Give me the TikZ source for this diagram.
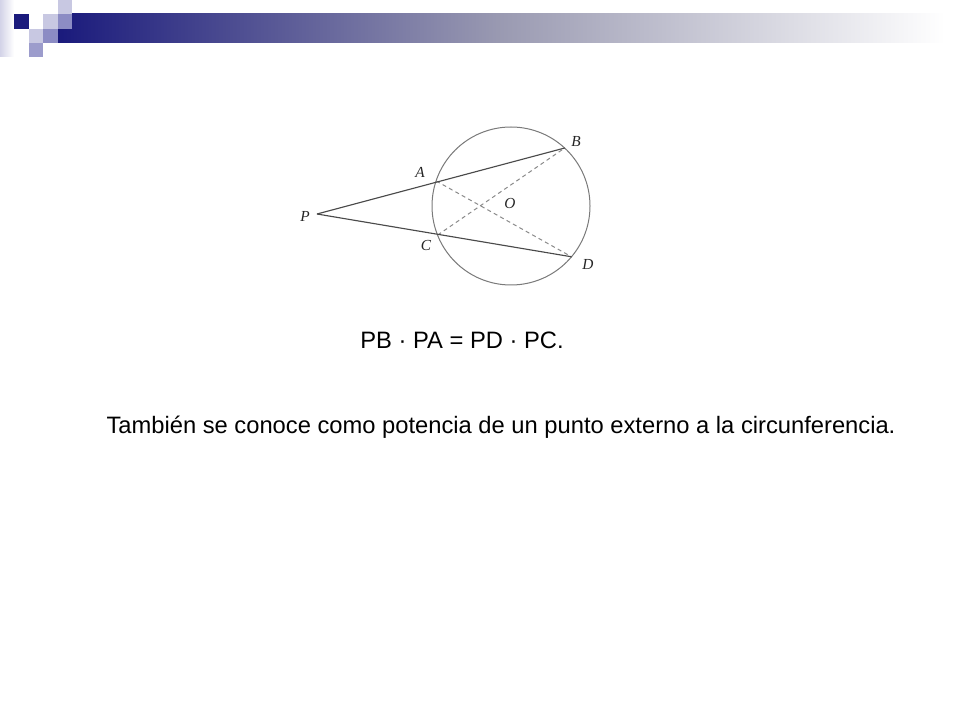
\documentclass[tikz,border=0pt]{standalone}
\usepackage{fontspec}
\setmainfont{Liberation Sans}
\newfontfamily\labelfont{Liberation Serif}
\definecolor{navy}{HTML}{1A1A7C}
\definecolor{lav}{HTML}{C8C8E2}
\definecolor{midlav}{HTML}{8C8CC4}
\definecolor{lavb}{HTML}{9C9CCC}
\definecolor{linegray}{HTML}{4A4A4A}
\definecolor{circgray}{HTML}{7A7A7A}
\definecolor{dashgray}{HTML}{8A8A8A}
\tikzset{
  seg/.style={draw=linegray, line width=0.85pt},
  dashseg/.style={draw=dashgray, line width=0.75pt, dash pattern=on 3pt off 2.5pt},
  ptlabel/.style={font=\labelfont\itshape\fontsize{11.5}{13}\selectfont, text=black!85, inner sep=0pt},
  body/.style={font=\fontsize{17.8}{20}\selectfont, inner sep=0pt}
}
\begin{document}
\begin{tikzpicture}[x=0.75pt,y=-0.75pt]
\useasboundingbox (0,0) rectangle (960,720);
\fill[white] (0,0) rectangle (960,720);
% header
\shade[left color=lav!80, right color=white] (0,0) rectangle (14,57);
\shade[left color=navy, right color=white, middle color=navy!40!gray!60] (58,14) rectangle (945,43);
\fill[navy] (14,14) rectangle (29,29);
\fill[lav] (43,14) rectangle (58,29);
\fill[lav] (58,0) rectangle (72,14);
\fill[midlav] (58,14) rectangle (72,29);
\fill[lav] (29,29) rectangle (43,43);
\fill[midlav] (43,29) rectangle (58,43);
\fill[lavb] (29,43) rectangle (43,57);
% figure
\coordinate (Oc) at (511,206);
\node[draw=circgray, line width=0.75pt, circle, minimum size=118.5pt, inner sep=0pt] (circ) at (Oc) {};
\coordinate (P) at (317,214);
\coordinate (A) at (436.2,181);
\coordinate (B) at (564.7,148);
\coordinate (C) at (437.7,235);
\coordinate (D) at (571.6,256.8);
\draw[dashseg] (A) -- (D);
\draw[dashseg] (C) -- (B);
\draw[seg] (P) -- (B);
\draw[seg] (P) -- (D);
\node[ptlabel] (lP) at (305,216) {P};
\node[ptlabel] (lA) at (420,172) {A};
\node[ptlabel] (lB) at (576,142) {B};
\node[ptlabel] (lC) at (426,245) {C};
\node[ptlabel] (lD) at (588,264) {D};
\node[ptlabel] (lO) at (510,204) {O};
% text
\node[body] (eq) at (462,340) {PB · PA = PD · PC.};
\node[body] (txt) at (501,427) {También se conoce como potencia de un punto externo a la circunferencia.};
\end{tikzpicture}
\end{document}
